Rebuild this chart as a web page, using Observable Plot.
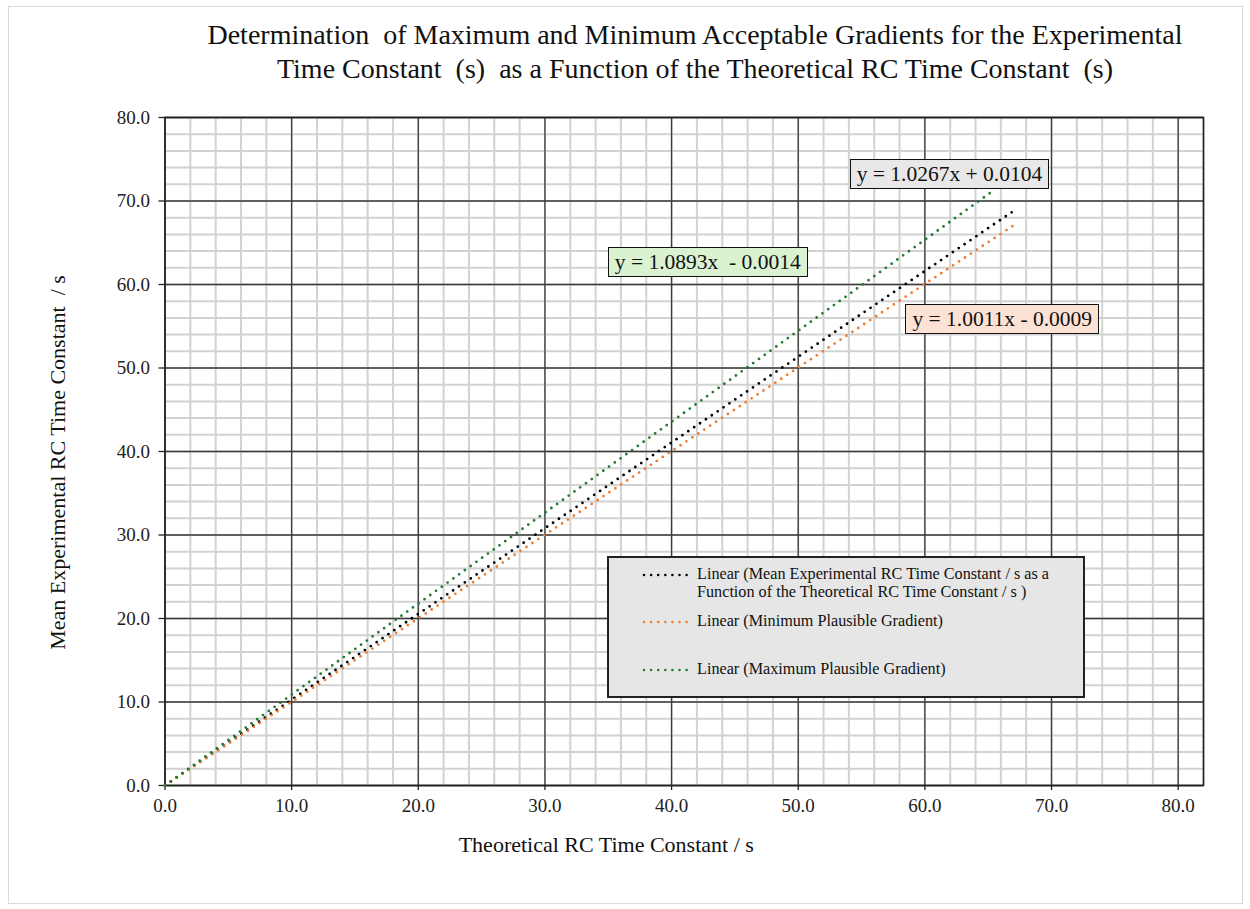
<!DOCTYPE html>
<html>
<head>
<meta charset="utf-8">
<script src="https://cdn.jsdelivr.net/npm/d3@7"></script>
<script src="https://cdn.jsdelivr.net/npm/@observablehq/plot@0.6"></script>
<style>
  body { margin: 0; background: #fff; font-family: "Liberation Serif", "Times New Roman", serif; color: #111; }
  #chart { position: relative; width: 1250px; height: 909px; overflow: hidden; }
  #border { position: absolute; left: 8px; top: 6px; width: 1235px; height: 898px; border: 1.5px solid #d9d9d9; box-sizing: border-box; }
  #title { position: absolute; left: 140px; width: 1110px; top: 18px; text-align: center; font-size: 28px; line-height: 34px; white-space: pre; }
  #plot { position: absolute; left: 0; top: 95px; }
  .eq { position: absolute; border: 1.5px solid #111; font-size: 21.5px; line-height: 28px; padding: 0 6px; white-space: pre; }
  #legend { position: absolute; left: 607px; top: 556px; width: 478px; height: 142px; background: #e6e6e6; border: 2px solid #222; box-sizing: border-box; font-size: 16.2px; line-height: 18px; }
  .entry { position: absolute; left: 33px; display: flex; align-items: flex-start; }
  .entry svg { flex: none; margin-top: 8px; }
  .entry span { margin-left: 7px; width: 392px; }
</style>
</head>
<body>
<div id="chart">
  <div id="border"></div>
  <div id="title">Determination  of Maximum and Minimum Acceptable Gradients for the Experimental
Time Constant  (s)  as a Function of the Theoretical RC Time Constant  (s)</div>
  <div id="plot"></div>
  <div id="legend"></div>
</div>
<script>
// Trendline series: names, gradients, intercepts and the x-range each fit covers
const seriesNames = [
  "Linear (Mean Experimental RC Time Constant / s as a Function of the Theoretical RC Time Constant / s )",
  "Linear (Minimum Plausible Gradient)",
  "Linear (Maximum Plausible Gradient)"
];
const gradients = [1.0267, 1.0011, 1.0893];
const intercepts = [0.0104, -0.0009, -0.0014];
const xStart = [0, 0, 0];
const xEnd = [67.1, 67.3, 65.4];
const equationLabels = ["y = 1.0267x + 0.0104", "y = 1.0011x - 0.0009", "y = 1.0893x  - 0.0014"];

// Axis ticks
const xTicks = [0, 10, 20, 30, 40, 50, 60, 70, 80];
const yTicks = [0, 10, 20, 30, 40, 50, 60, 70, 80];
const xMinor = d3.range(0, 83, 2);
const yMinor = d3.range(0, 81, 2);

// Styling
const lineColors = ["#000000", "#ED7D31", "#237A31"];
const boxFills = ["#E8E8E8", "#FBE2D5", "#DBF2D1"];
// Top-left corner of each equation box, in data units
const eqAnchorX = [54.1, 58.5, 35.0];
const eqAnchorY = [75.0, 57.6, 64.4];

const trend = seriesNames.map((name, i) => [xStart[i], xEnd[i]].map(x => ({
  series: name, x, y: gradients[i] * x + intercepts[i]
})));

const dotted = {strokeWidth: 2.8, strokeDasharray: "0 7.1", strokeLinecap: "round"};

const plot = Plot.plot({
  width: 1250,
  height: 800,
  marginLeft: 164.5,
  marginRight: 47,
  marginTop: 22,
  marginBottom: 110,
  style: {fontFamily: "'Liberation Serif', 'Times New Roman', serif", fontSize: "19px", color: "#222", background: "transparent", overflow: "visible"},
  x: {domain: [0, 82]},
  y: {domain: [0, 80]},
  marks: [
    Plot.ruleX(xMinor, {stroke: "#d2d2d2", strokeWidth: 2}),
    Plot.ruleY(yMinor, {stroke: "#d2d2d2", strokeWidth: 2}),
    Plot.ruleX(xTicks, {stroke: "#3a3a3a", strokeWidth: 1.3}),
    Plot.ruleY(yTicks, {stroke: "#3a3a3a", strokeWidth: 1.3}),
    Plot.frame({stroke: "#222", strokeWidth: 1.6}),
    Plot.axisX({ticks: xTicks, tickFormat: d3.format(".1f"), tickSize: 5, tickPadding: 8, label: null, strokeWidth: 1.3}),
    Plot.axisY({ticks: yTicks, tickFormat: d3.format(".1f"), tickSize: 6, tickPadding: 9, label: null, strokeWidth: 1.3}),
    ...trend.map((rows, i) => Plot.line(rows, {x: "x", y: "y", stroke: lineColors[i], ...dotted})),
    Plot.text(["Theoretical RC Time Constant / s"], {frameAnchor: "bottom", textAnchor: "middle", dx: -78, dy: 66, fontSize: 22, fill: "#111"}),
    Plot.text(["Mean Experimental RC Time Constant  / s"], {frameAnchor: "left", textAnchor: "middle", rotate: -90, dx: -107, dy: 11, fontSize: 22, fill: "#111"})
  ]
});
document.getElementById("plot").appendChild(plot);

// Equation boxes placed in data coordinates through the plot's scales
const sx = plot.scale("x"), sy = plot.scale("y");
const plotTop = 95;
const chart = document.getElementById("chart");
equationLabels.forEach((label, i) => {
  const div = document.createElement("div");
  div.className = "eq";
  div.textContent = label;
  div.style.background = boxFills[i];
  div.style.left = sx.apply(eqAnchorX[i]) + "px";
  div.style.top = (plotTop + sy.apply(eqAnchorY[i])) + "px";
  chart.appendChild(div);
});

// Legend
const legend = document.getElementById("legend");
const entryTops = [7, 54, 102];
const legendOrder = [0, 1, 2];
legendOrder.forEach((i, k) => {
  const e = document.createElement("div");
  e.className = "entry";
  e.style.top = entryTops[k] + "px";
  e.innerHTML = `<svg width="48" height="4"><line x1="2" x2="46" y1="2" y2="2" stroke="${lineColors[i]}" stroke-width="2.6" stroke-dasharray="0 7.1" stroke-linecap="round"/></svg>`;
  const t = document.createElement("span");
  t.textContent = seriesNames[i];
  e.appendChild(t);
  legend.appendChild(e);
});
</script>
</body>
</html>
